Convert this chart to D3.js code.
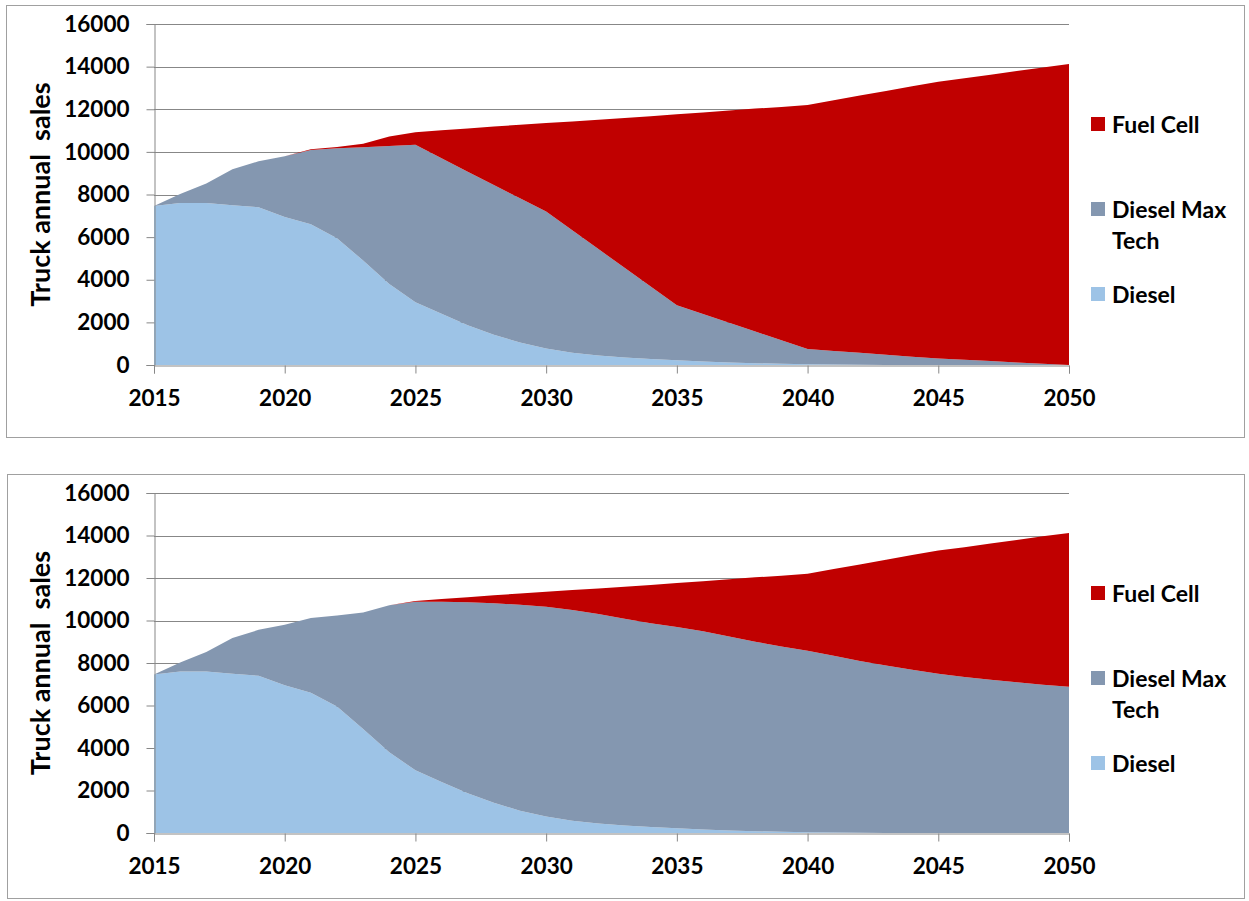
<!DOCTYPE html>
<html>
<head>
<meta charset="utf-8">
<script src="https://cdn.jsdelivr.net/npm/d3@7"></script>
<style>
  html, body { margin: 0; padding: 0; background: #fff; }
  svg { display: block; }
  text { font-family: Lato, "Open Sans", sans-serif; font-weight: bold; fill: #000; }
</style>
</head>
<body>
<svg id="chart" width="1249" height="901"></svg>
<script>
// ---------------- DATA ----------------
const years = [2015,2016,2017,2018,2019,2020,2021,2022,2023,2024,2025,2026,2027,2028,2029,2030,
               2031,2032,2033,2034,2035,2036,2037,2038,2039,2040,2041,2042,2043,2044,2045,2046,2047,2048,2049,2050];

const seriesNames = ["Diesel", "Diesel Max Tech", "Fuel Cell"];

// Diesel (same in both scenarios)
const diesel = [7460,7600,7600,7500,7400,6950,6600,5950,4900,3800,2950,2400,1870,1420,1050,780,
                580,450,350,280,220,160,120,85,55,35,20,10,5,0,0,0,0,0,0,0];

// Scenario 1 (top chart)
const dieselMaxTech1 = [0,420,920,1680,2160,2850,3490,4220,5320,6480,7390,7300,7200,7030,6770,6420,
                        5740,4990,4210,3400,2580,2230,1860,1485,1105,715,640,560,475,390,310,250,190,120,60,0];
const fuelCell1 = [0,0,0,0,0,0,30,60,160,440,580,1310,2030,2740,3450,4150,
                   5110,6070,7030,7990,8960,9460,9960,10460,10950,11450,11760,12070,12380,12690,12980,13200,13430,13670,13900,14120];

// Scenario 2 (bottom chart)
const dieselMaxTech2 = [0,420,920,1680,2160,2850,3520,4280,5480,6920,7930,8480,8990,9390,9690,9870,
                        9920,9860,9730,9590,9480,9340,9130,8915,8725,8545,8320,8090,7875,7680,7500,7340,7210,7090,6980,6880];
const fuelCell2 = [0,0,0,0,0,0,0,0,0,0,40,130,240,380,530,700,
                   930,1200,1510,1800,2060,2350,2690,3030,3330,3620,4080,4540,4980,5400,5790,6110,6410,6700,6980,7240];

const xTicks = [2015,2020,2025,2030,2035,2040,2045,2050];
const yTicks = [0,2000,4000,6000,8000,10000,12000,14000,16000];
const yTitle = "Truck annual\u00a0 sales";
const legendLabels = [["Fuel Cell"], ["Diesel Max", "Tech"], ["Diesel"]];

// ---------------- STYLE ----------------
const colors = { "Diesel": "#9DC3E6", "Diesel Max Tech": "#8497B0", "Fuel Cell": "#C00000" };
const legendColors = ["#C00000", "#8497B0", "#9DC3E6"];
const gridColor = "#878787";

const svg = d3.select("#chart");

function drawPanel(cfg) {
  const g = svg.append("g");
  // frame
  g.append("rect")
    .attr("x", cfg.frame[0] + 0.5).attr("y", cfg.frame[1] + 0.5)
    .attr("width", cfg.frame[2]).attr("height", cfg.frame[3])
    .attr("fill", "#fff").attr("stroke", "#A0A0A0").attr("stroke-width", 1);

  const x = d3.scaleLinear().domain([2015, 2050]).range([cfg.left, cfg.right]);
  const y = d3.scaleLinear().domain([0, 16000]).range([cfg.bottom, cfg.top]);

  // gridlines
  g.append("g").selectAll("line").data(yTicks.filter(d => d > 0)).join("line")
    .attr("x1", cfg.left).attr("x2", cfg.right)
    .attr("y1", d => Math.round(y(d)) + 0.5).attr("y2", d => Math.round(y(d)) + 0.5)
    .attr("stroke", gridColor).attr("stroke-width", 1);

  // stacked areas
  const rows = years.map((yr, i) => ({
    year: yr,
    "Diesel": diesel[i],
    "Diesel Max Tech": cfg.dmt[i],
    "Fuel Cell": cfg.fc[i]
  }));
  const stack = d3.stack().keys(seriesNames)(rows);
  const area = d3.area()
    .x(d => x(d.data.year))
    .y0(d => y(d[0]))
    .y1(d => y(d[1]))
    .curve(d3.curveLinear);
  g.append("g").selectAll("path").data(stack).join("path")
    .attr("d", area)
    .attr("fill", d => colors[d.key]);

  // y axis
  const yAxis = d3.axisLeft(y).tickValues(yTicks).tickSize(8).tickPadding(17).tickFormat(d3.format("d"));
  const ya = g.append("g").attr("transform", `translate(${cfg.left + 0.5},0)`).call(yAxis);
  ya.select(".domain").attr("stroke", gridColor);
  ya.selectAll(".tick line").attr("stroke", gridColor);
  ya.selectAll(".tick text").attr("font-size", 22.5).attr("font-family", "Lato").attr("font-weight", "bold").attr("fill", "#000");

  // x axis
  const xAxis = d3.axisBottom(x).tickValues(xTicks).tickSize(8).tickPadding(17).tickFormat(d3.format("d"));
  const xa = g.append("g").attr("transform", `translate(0,${Math.round(cfg.bottom) + 0.5})`).call(xAxis);
  xa.select(".domain").attr("stroke", gridColor);
  xa.selectAll(".tick line").attr("stroke", gridColor);
  xa.selectAll(".tick text").attr("font-size", 22.5).attr("font-family", "Lato").attr("font-weight", "bold").attr("fill", "#000");

  // y title
  g.append("text")
    .attr("transform", `translate(${cfg.left - 115},${(cfg.top + cfg.bottom) / 2}) rotate(-90)`)
    .attr("text-anchor", "middle").attr("dominant-baseline", "central")
    .attr("font-size", 27)
    .text(yTitle);

  // legend
  const lx = 1091;
  const offsets = [100, 185, 270];
  legendLabels.forEach((lines, i) => {
    const cy = cfg.top + offsets[i];
    g.append("rect").attr("x", lx).attr("y", cy - 7).attr("width", 14).attr("height", 14)
      .attr("fill", legendColors[i]);
    lines.forEach((ln, j) => {
      g.append("text").attr("x", lx + 21).attr("y", cy + j * 31)
        .attr("dominant-baseline", "central").attr("font-size", 23).text(ln);
    });
  });
}

drawPanel({ frame: [6, 5, 1238, 432], left: 154, right: 1069, top: 24, bottom: 365,
            dmt: dieselMaxTech1, fc: fuelCell1 });
drawPanel({ frame: [7, 474, 1237, 424], left: 154, right: 1069, top: 493, bottom: 833,
            dmt: dieselMaxTech2, fc: fuelCell2 });
</script>
</body>
</html>
